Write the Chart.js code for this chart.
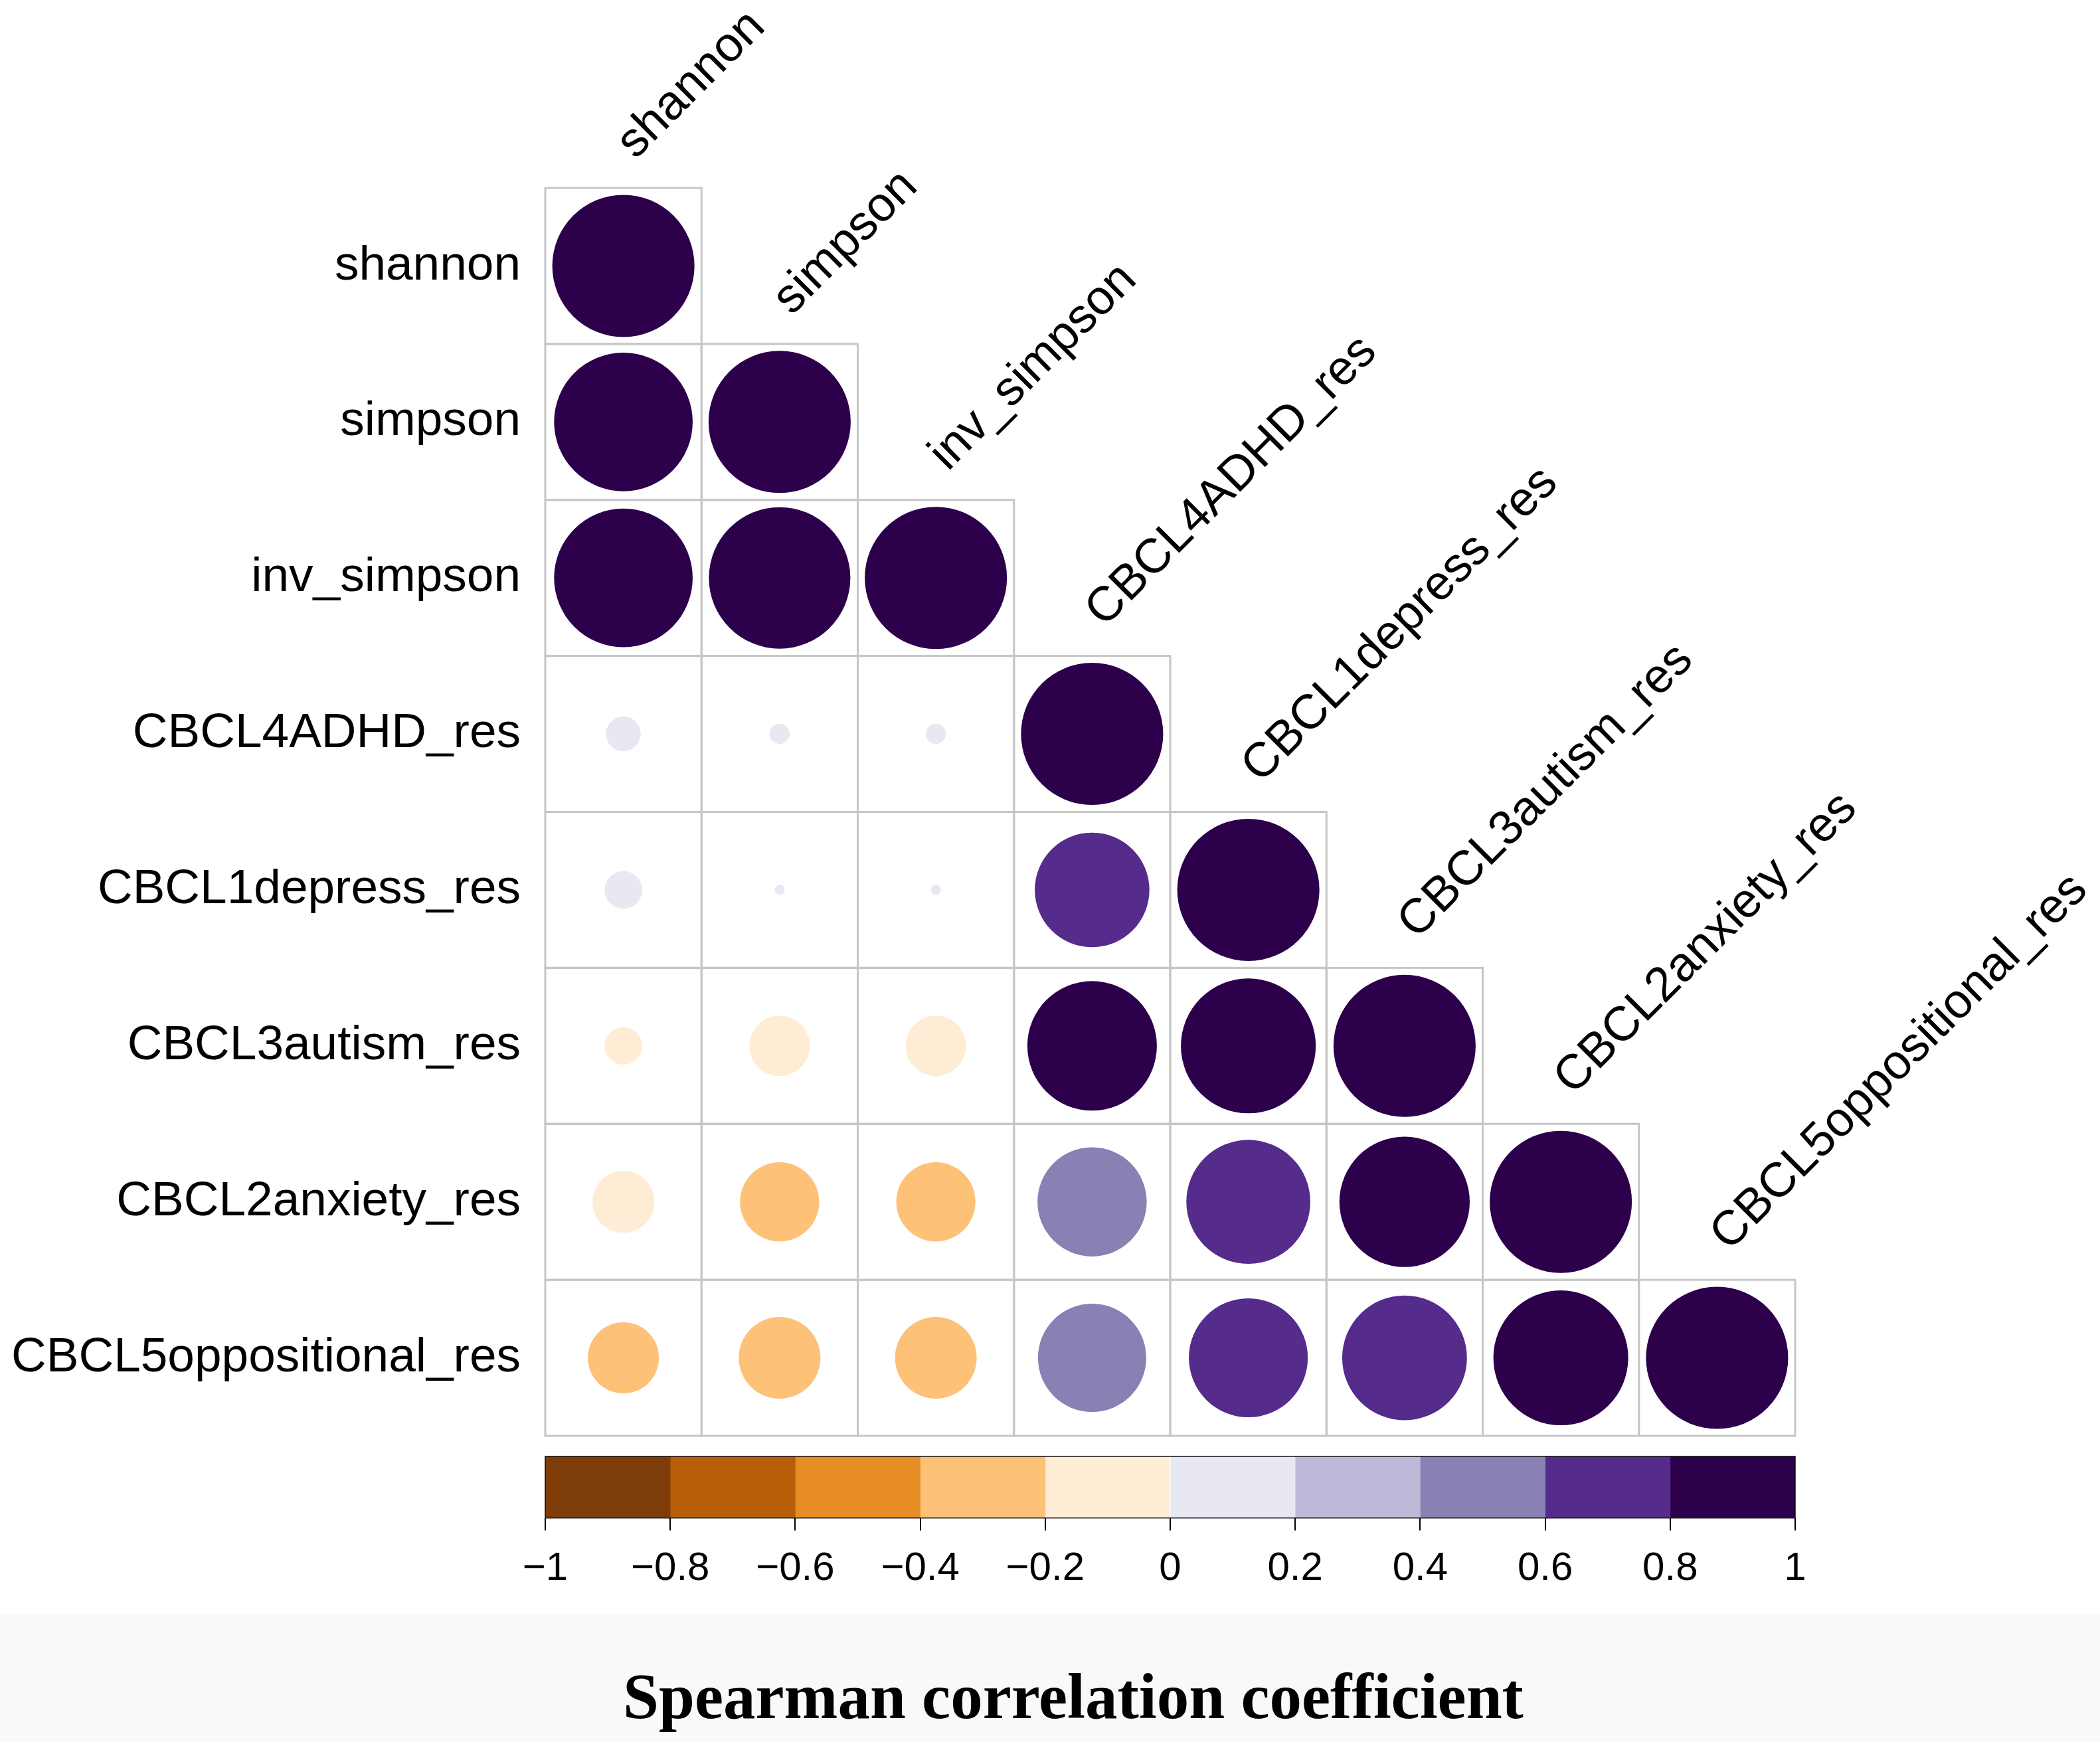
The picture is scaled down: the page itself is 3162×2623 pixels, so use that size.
<!DOCTYPE html>
<html>
<head>
<meta charset="utf-8">
<script src="https://cdn.jsdelivr.net/npm/chart.js@4"></script>
<style>
  html, body { margin: 0; padding: 0; background: #ffffff; }
  #page { position: relative; width: 3162px; height: 2623px; overflow: hidden; }
  #band { position: absolute; left: 0; top: 2432px; width: 3162px; height: 191px; background: #f9f9f9; }
  #corr { position: absolute; left: 0; top: 0; }
  #bar { position: absolute; left: 0; top: 2150px; }
</style>
</head>
<body>
<div id="page">
  <div id="band"></div>
  <canvas id="corr" width="3162" height="2623"></canvas>
  <canvas id="bar" width="3162" height="473"></canvas>
</div>
<script>
// variables, in the order of rows (top to bottom) and columns (left to right)
var variables = ['shannon', 'simpson', 'inv_simpson', 'CBCL4ADHD_res', 'CBCL1depress_res',
                 'CBCL3autism_res', 'CBCL2anxiety_res', 'CBCL5oppositional_res'];

// lower triangle of the Spearman matrix, one row per variable
var rowShannon    = [1];
var rowSimpson    = [0.95, 1];
var rowInvSimpson = [0.95, 0.99, 1];
var rowADHD       = [0.06, 0.02, 0.02, 1];
var rowDepress    = [0.07, 0.005, 0.005, 0.65, 1];
var rowAutism     = [-0.07, -0.18, -0.18, 0.83, 0.90, 1];
var rowAnxiety    = [-0.19, -0.31, -0.31, 0.59, 0.76, 0.84, 1];
var rowOpposition = [-0.25, -0.33, -0.33, 0.58, 0.70, 0.77, 0.90, 1];

// colour key
var keyBreaks = [-1, -0.8, -0.6, -0.4, -0.2, 0, 0.2, 0.4, 0.6, 0.8, 1];
var keyColors = ['#7E3C08', '#B75E07', '#E68D26', '#FDC178', '#FEECD5',
                 '#E8E8F3', '#BDBAD9', '#8A80B4', '#552B8B', '#2D004B'];
var keyTickLabels = ['\u22121', '\u22120.8', '\u22120.6', '\u22120.4', '\u22120.2',
                     '0', '0.2', '0.4', '0.6', '0.8', '1'];

var titleText = 'Spearman correlation coefficient';

Chart.defaults.font.family = "'Liberation Sans', Arial, sans-serif";
Chart.defaults.color = '#000';

var rows = [rowShannon, rowSimpson, rowInvSimpson, rowADHD, rowDepress, rowAutism, rowAnxiety, rowOpposition];

function colorFor(v) {
    for (var k = 0; k < keyColors.length; k++) {
        if (v <= keyBreaks[k + 1]) return keyColors[k];
    }
    return keyColors[keyColors.length - 1];
}

var points = [];
rows.forEach(function (r, i) {
    r.forEach(function (v, j) {
        points.push({x: j, y: i, v: v});
    });
});

function cellSize(chart) {
    var s = chart.scales.x;
    return s.getPixelForValue(1) - s.getPixelForValue(0);
}

function circleRadius(c) {
    if (!c.raw) return 0;
    return 0.455 * cellSize(c.chart) * Math.sqrt(Math.abs(c.raw.v));
}

var cellGrid = {
    id: 'cellGrid',
    beforeDatasetsDraw: function (chart) {
        var ctx = chart.ctx, xs = chart.scales.x, ys = chart.scales.y;
        ctx.save();
        ctx.strokeStyle = '#c6c6c6';
        ctx.lineWidth = 3;
        rows.forEach(function (r, i) {
            r.forEach(function (v, j) {
                var x0 = xs.getPixelForValue(j - 0.5), x1 = xs.getPixelForValue(j + 0.5);
                var y0 = ys.getPixelForValue(i - 0.5), y1 = ys.getPixelForValue(i + 0.5);
                ctx.strokeRect(x0, y0, x1 - x0, y1 - y0);
            });
        });
        ctx.restore();
    },
    afterDraw: function (chart) {
        // column names sit diagonally above the diagonal cells
        var ctx = chart.ctx, xs = chart.scales.x, ys = chart.scales.y;
        ctx.save();
        ctx.fillStyle = '#000';
        ctx.font = "73px 'Liberation Sans', Arial, sans-serif";
        ctx.textAlign = 'left';
        ctx.textBaseline = 'alphabetic';
        variables.forEach(function (name, j) {
            ctx.save();
            ctx.translate(xs.getPixelForValue(j) + 18, ys.getPixelForValue(j - 0.5) - 42);
            ctx.rotate(-Math.PI / 4);
            ctx.fillText(name, 0, 0);
            ctx.restore();
        });
        ctx.restore();
    }
};

new Chart(document.getElementById('corr'), {
    type: 'scatter',
    data: {
        datasets: [{
            data: points,
            showLine: false,
            pointStyle: 'circle',
            pointBorderWidth: 0,
            pointRadius: circleRadius,
            pointHoverRadius: circleRadius,
            pointBackgroundColor: function (c) {
                return c.raw ? colorFor(c.raw.v) : '#000';
            },
            pointBorderColor: function (c) {
                return c.raw ? colorFor(c.raw.v) : '#000';
            }
        }]
    },
    options: {
        responsive: false,
        animation: false,
        devicePixelRatio: 1,
        layout: {padding: {top: 283, right: 459, bottom: 461, left: 0}},
        plugins: {legend: {display: false}, tooltip: {enabled: false}},
        scales: {
            x: {type: 'linear', min: -0.5, max: 7.5, display: false},
            y: {
                type: 'linear', min: -0.5, max: 7.5, reverse: true,
                grid: {display: false, drawTicks: false},
                border: {display: false},
                afterBuildTicks: function (s) {
                    s.ticks = variables.map(function (n, i) { return {value: i}; });
                },
                afterFit: function (s) { s.width = 821; },
                ticks: {
                    autoSkip: false,
                    padding: 37,
                    color: '#000',
                    font: {size: 73},
                    callback: function (v) { return variables[v]; }
                }
            }
        }
    },
    plugins: [cellGrid]
});

var keyFrame = {
    id: 'keyFrame',
    afterDatasetsDraw: function (chart) {
        var a = chart.chartArea, ctx = chart.ctx;
        ctx.save();
        ctx.strokeStyle = 'rgba(0,0,0,0.7)';
        ctx.lineWidth = 2;
        ctx.strokeRect(a.left, a.top, a.right - a.left, a.bottom - a.top);
        ctx.restore();
    }
};

var keyDatasets = keyColors.map(function (col, k) {
    return {
        data: [[keyBreaks[k], keyBreaks[k + 1]]],
        backgroundColor: col,
        borderWidth: 0,
        grouped: false,
        barPercentage: 1,
        categoryPercentage: 1
    };
});

new Chart(document.getElementById('bar'), {
    type: 'bar',
    data: {labels: [''], datasets: keyDatasets},
    options: {
        indexAxis: 'y',
        responsive: false,
        animation: false,
        devicePixelRatio: 1,
        layout: {padding: {top: 43, right: 459, bottom: 0, left: 529}},
        plugins: {
            legend: {display: false},
            tooltip: {enabled: false},
            title: {
                display: true,
                position: 'bottom',
                text: titleText,
                color: '#000',
                font: {family: "'Liberation Serif', 'Times New Roman', serif", size: 97, weight: 'bold'},
                padding: {top: 83, bottom: 3}
            }
        },
        scales: {
            x: {
                type: 'linear', min: -1, max: 1,
                afterBuildTicks: function (s) {
                    s.ticks = keyBreaks.map(function (v) { return {value: v}; });
                },
                grid: {display: true, drawOnChartArea: false, drawTicks: true, tickLength: 19, color: '#000', lineWidth: 2},
                border: {display: false},
                ticks: {
                    autoSkip: false,
                    maxRotation: 0,
                    padding: 22,
                    color: '#000',
                    font: {size: 60},
                    callback: function (v, i) { return keyTickLabels[i]; }
                }
            },
            y: {
                type: 'category',
                grid: {display: false, drawTicks: false},
                border: {display: false},
                ticks: {display: false},
                afterFit: function (s) { s.width = 292; }
            }
        }
    },
    plugins: [keyFrame]
});
</script>
</body>
</html>
